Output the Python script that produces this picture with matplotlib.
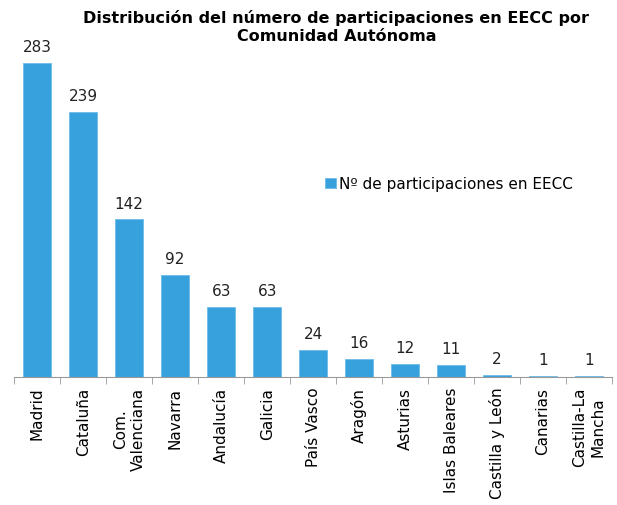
import matplotlib.pyplot as plt
import numpy as np

comunidades = ["Madrid", "Cataluña", "Com.\nValenciana", "Navarra", "Andalucía",
               "Galicia", "País Vasco", "Aragón", "Asturias", "Islas Baleares",
               "Castilla y León", "Canarias", "Castilla-La\nMancha"]
participaciones = [283, 239, 142, 92, 63, 63, 24, 16, 12, 11, 2, 1, 1]

color = "#37A1DD"

fig = plt.figure(figsize=(6.17, 5.06), dpi=100)
ax = fig.add_axes([0.023, 0.253, 0.969, 0.658])

x = np.arange(len(comunidades))
bars = ax.bar(x, participaciones, width=0.62, color=color, edgecolor="#6CBCE8",
              linewidth=0.6, label="Nº de participaciones en EECC")

for xi, v in zip(x, participaciones):
    ax.text(xi, v + 8, str(v), ha="center", va="bottom", fontsize=11, color="#222222")

ax.set_xlim(-0.5, len(comunidades) - 0.5)
ax.set_ylim(0, 300)
ax.set_yticks([])
for s in ["top", "right", "left"]:
    ax.spines[s].set_visible(False)
ax.spines["bottom"].set_color("#999999")

# ticks between categories
ax.set_xticks(np.arange(len(comunidades) + 1) - 0.5, minor=True)
ax.set_xticks(x)
ax.set_xticklabels(comunidades, rotation=90, fontsize=11, va="top", ha="center",
                   multialignment="center", linespacing=1.25)
ax.tick_params(axis="x", which="major", length=0, pad=7)
ax.tick_params(axis="x", which="minor", length=5, color="#999999")

ax.legend(loc="center left", bbox_to_anchor=(0.52, 0.58), frameon=False,
          fontsize=11, handlelength=0.7, handleheight=0.7, handletextpad=0.2,
          borderpad=0, borderaxespad=0)

fig.suptitle("Distribución del número de participaciones en EECC por\nComunidad Autónoma",
             x=0.545, y=0.98, fontsize=11.5, fontweight="bold", linespacing=1.2)

fig.savefig("out.png", dpi=100)
